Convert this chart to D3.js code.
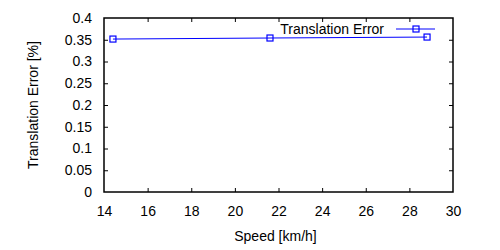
<!DOCTYPE html>
<html>
<head>
<meta charset="utf-8">
<script src="https://cdn.jsdelivr.net/npm/d3@7"></script>
<style>
    body { margin: 0; background: #fff; }
    text { font-family: 'Liberation Sans', Arial, sans-serif; font-size: 14px; fill: #000; }
</style>
</head>
<body>
<svg class="chart" width="500" height="250"></svg>
<script>
var speed = [14.41, 21.61, 28.81];
var transError = [0.3516, 0.354, 0.3562];
var xTicks = [14, 16, 18, 20, 22, 24, 26, 28, 30];
var yTicks = [0, 0.05, 0.1, 0.15, 0.2, 0.25, 0.3, 0.35, 0.4];
var seriesName = 'Translation Error';

(function() {
    var p = {};
        p.margin = {top: 18, right: 47, bottom: 58, left: 104};
        p.width = 500 - p.margin.left - p.margin.right;
        p.height = 250 - p.margin.top - p.margin.bottom;
        p.lineColor = '#0000ff';
        p.tick = 4;
        p.box = 6;

    var data = speed.map(function(s, i) { return {x: s, y: transError[i]}; });

    var svg = d3.select('.chart');
    var chart = svg.append('g')
        .attr('transform', 'translate(' + p.margin.left + ',' + p.margin.top + ')');

    var x = d3.scaleLinear().domain([14, 30]).range([0, p.width]);
    var y = d3.scaleLinear().domain([0, 0.4]).range([p.height, 0]);

    //-----  Axes (gnuplot style: inward ticks on all sides) -----//
    var fmtY = function(d) { return String(+d.toFixed(2)); };
    chart.append('g')
        .attr('transform', 'translate(0,' + p.height + ')')
        .call(d3.axisBottom(x).tickValues(xTicks).tickSizeInner(-p.tick).tickSizeOuter(0).tickPadding(14))
        .call(function(g) { g.select('.domain').remove(); });
    chart.append('g')
        .call(d3.axisTop(x).tickValues(xTicks).tickSizeInner(-p.tick).tickSizeOuter(0).tickFormat(''))
        .call(function(g) { g.select('.domain').remove(); });
    chart.append('g')
        .call(d3.axisLeft(y).tickValues(yTicks).tickSizeInner(-p.tick).tickSizeOuter(0).tickPadding(12).tickFormat(fmtY))
        .call(function(g) { g.select('.domain').remove(); });
    chart.append('g')
        .attr('transform', 'translate(' + p.width + ',0)')
        .call(d3.axisRight(y).tickValues(yTicks).tickSizeInner(-p.tick).tickSizeOuter(0).tickFormat(''))
        .call(function(g) { g.select('.domain').remove(); });
    chart.selectAll('.tick line').attr('stroke', '#000');
    // drop end ticks that sit on the frame
    chart.selectAll('.tick').each(function(d) {
        if (d === 14 || d === 30 || d === 0 || d === 0.4) d3.select(this).select('line').remove();
    });
    svg.selectAll('g').attr('font-family', null).attr('font-size', null);

    chart.append('rect')
        .attr('x', 0).attr('y', 0)
        .attr('width', p.width).attr('height', p.height)
        .attr('fill', 'none').attr('stroke', '#000').attr('stroke-width', 1.5);

    //-----  Series  -----//
    var line = d3.line()
        .x(function(d) { return x(d.x); })
        .y(function(d) { return y(d.y); });
    chart.append('path')
        .datum(data)
        .attr('d', line)
        .attr('fill', 'none')
        .attr('stroke', p.lineColor)
        .attr('stroke-width', 1);
    chart.selectAll('rect.pt')
        .data(data)
        .enter().append('rect')
            .attr('class', 'pt')
            .attr('x', function(d) { return x(d.x) - p.box / 2; })
            .attr('y', function(d) { return y(d.y) - p.box / 2; })
            .attr('width', p.box).attr('height', p.box)
            .attr('fill', 'none').attr('stroke', p.lineColor).attr('stroke-width', 1.2);

    //-----  Legend  -----//
    var lg = chart.append('g').attr('transform', 'translate(' + (p.width - 57) + ',11)');
    lg.append('text').text(seriesName)
        .attr('x', -12).attr('dy', '0.35em').attr('text-anchor', 'end');
    lg.append('line').attr('x1', 0).attr('x2', 39).attr('y1', 0).attr('y2', 0)
        .attr('stroke', p.lineColor);
    lg.append('rect').attr('x', 20 - p.box / 2).attr('y', -p.box / 2)
        .attr('width', p.box).attr('height', p.box)
        .attr('fill', 'none').attr('stroke', p.lineColor).attr('stroke-width', 1.2);

    //-----  Axis labels  -----//
    svg.append('text').text('Speed [km/h]')
        .attr('x', p.margin.left + p.width / 2 - 3).attr('y', 241)
        .attr('text-anchor', 'middle');
    svg.append('text').text('Translation Error [%]')
        .attr('transform', 'translate(38,' + (p.margin.top + p.height / 2) + ') rotate(-90)')
        .attr('text-anchor', 'middle');
})();
</script>
</body>
</html>
